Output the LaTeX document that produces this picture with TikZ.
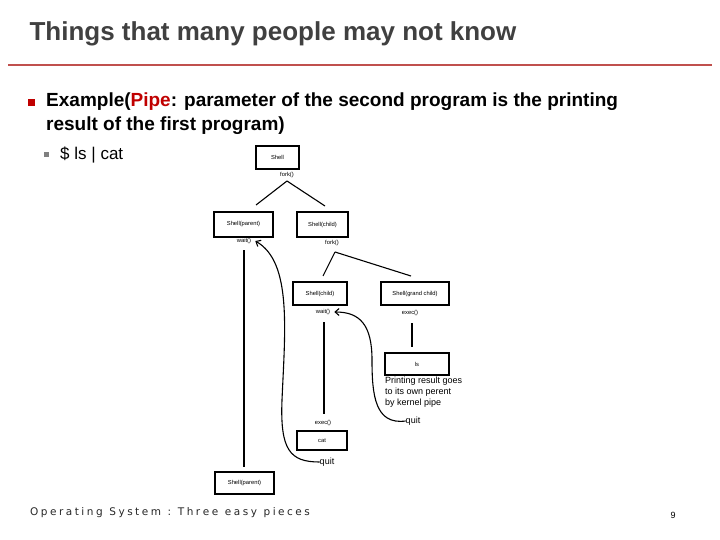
\documentclass[tikz,border=0pt]{standalone}
\usepackage{fontspec}
\setmainfont{Liberation Sans}
\newfontfamily\footfont{DejaVu Sans}
\usetikzlibrary{arrows.meta}
\definecolor{titlegray}{RGB}{64,64,64}
\definecolor{redline}{RGB}{192,80,77}
\definecolor{pipered}{RGB}{192,0,0}
\newcommand\ls{\hspace{2.5pt}}
\begin{document}
\begin{tikzpicture}[x=1pt,y=-1pt,
  box/.style={draw,line width=1.2pt,inner sep=0pt,font=\fontsize{5.8}{7}\selectfont},
  lbl/.style={inner sep=0pt,font=\fontsize{5.8}{7}\selectfont},
  ln/.style={line width=1.1pt},
  arr/.style={line width=1.1pt,-{Straight Barb[length=4pt,width=7pt]}}]
\useasboundingbox (0,0) rectangle (720,540);
\node[anchor=west,text=titlegray,font=\bfseries\fontsize{26}{30}\selectfont] (title) at (26,34) {Things that many people may not know};
\draw[redline,line width=1.5pt] (8,65) coordinate (l1) -- (712,65) coordinate (l2);
\node[fill=pipered,minimum size=7pt,inner sep=0pt] (b1) at (31,103) {};
\node[anchor=north west,align=left,inner sep=0pt,font=\bfseries\fontsize{19}{24}\selectfont] (t1) at (46,93) {Example(\textcolor{pipered}{Pipe}: parameter of the second program is the printing\\result of the first program)};
\node[fill=gray,minimum size=5pt,inner sep=0pt] (b2) at (46,155) {};
\node[anchor=west,inner sep=0pt,font=\fontsize{17}{20}\selectfont] (t2) at (60,155) {\$ ls | cat};
% diagram
\node[box,minimum width=43pt,minimum height=23pt] (shell) at (277.5,157.5) {Shell};
\node[lbl] (fork1) at (287,175) {fork()};
\node[box,minimum width=59pt,minimum height=25pt] (sp) at (243.5,224.5) {Shell(parent)};
\node[box,minimum width=51pt,minimum height=25pt] (sc) at (322.5,224.5) {Shell(child)};
\node[lbl] (wait1) at (244,241) {wait()};
\node[lbl] (fork2) at (332,243) {fork()};
\node[box,minimum width=54pt,minimum height=23pt] (sc2) at (320,293.5) {Shell(child)};
\node[box,minimum width=68pt,minimum height=23pt] (sg) at (415,293.5) {Shell(grand child)};
\node[lbl] (wait2) at (323,312) {wait()};
\node[lbl] (exec1) at (410,313) {exec()};
\node[box,minimum width=64pt,minimum height=22pt] (ls) at (417,364) {ls};
\node[anchor=north west,align=left,inner sep=0pt,font=\fontsize{9}{11}\selectfont] (pr) at (385,377) {Printing result goes\\to its own perent\\by kernel pipe};
\node[inner sep=0pt,font=\fontsize{9}{10}\selectfont] (quit1) at (413,421) {quit};
\node[lbl] (exec2) at (323,423) {exec()};
\node[box,minimum width=50pt,minimum height=19pt] (cat) at (322,440.5) {cat};
\node[inner sep=0pt,font=\fontsize{9}{10}\selectfont] (quit2) at (327,462) {quit};
\node[box,minimum width=59pt,minimum height=22pt] (sp2) at (244.5,483) {Shell(parent)};
\draw[ln] (287,181) coordinate (f1) -- (256,205) coordinate (f1a);
\draw[ln] (f1) -- (325,206) coordinate (f1b);
\draw[ln] (335,252) coordinate (f2) -- (323,276) coordinate (f2a);
\draw[ln] (f2) -- (411,276) coordinate (f2b);
\draw[ln] (412,323) coordinate (e1) -- (412,347) coordinate (e1b);
\draw[ln] (324,322) coordinate (w2) -- (324,414) coordinate (w2b);
\draw[ln] (244,250) coordinate (w1) -- (244,467) coordinate (w1b);
\draw[arr] (quit1.west) .. controls (375,425) and (372,395) .. (372,360)
  .. controls (372,325) and (360,312) .. ([xshift=4pt]wait2.east);
\draw[arr] (quit2.west) .. controls (290,462) and (280,450) .. (282,400)
  .. controls (285,330) and (292,262) .. ([xshift=4pt]wait1.east);
\node[anchor=west,inner sep=0pt,font=\footfont\fontsize{10.5}{12}\selectfont,text=black!85] (foot) at (30,513) {O\ls p\ls e\ls r\ls a\ls t\ls i\ls n\ls g\ \ S\ls y\ls s\ls t\ls e\ls m\ \ :\ \ T\ls h\ls r\ls e\ls e\ \ e\ls a\ls s\ls y\ \ p\ls i\ls e\ls c\ls e\ls s};
\node[inner sep=0pt,font=\fontsize{9}{10}\selectfont] (pg) at (673,515) {9};
\end{tikzpicture}
\end{document}
